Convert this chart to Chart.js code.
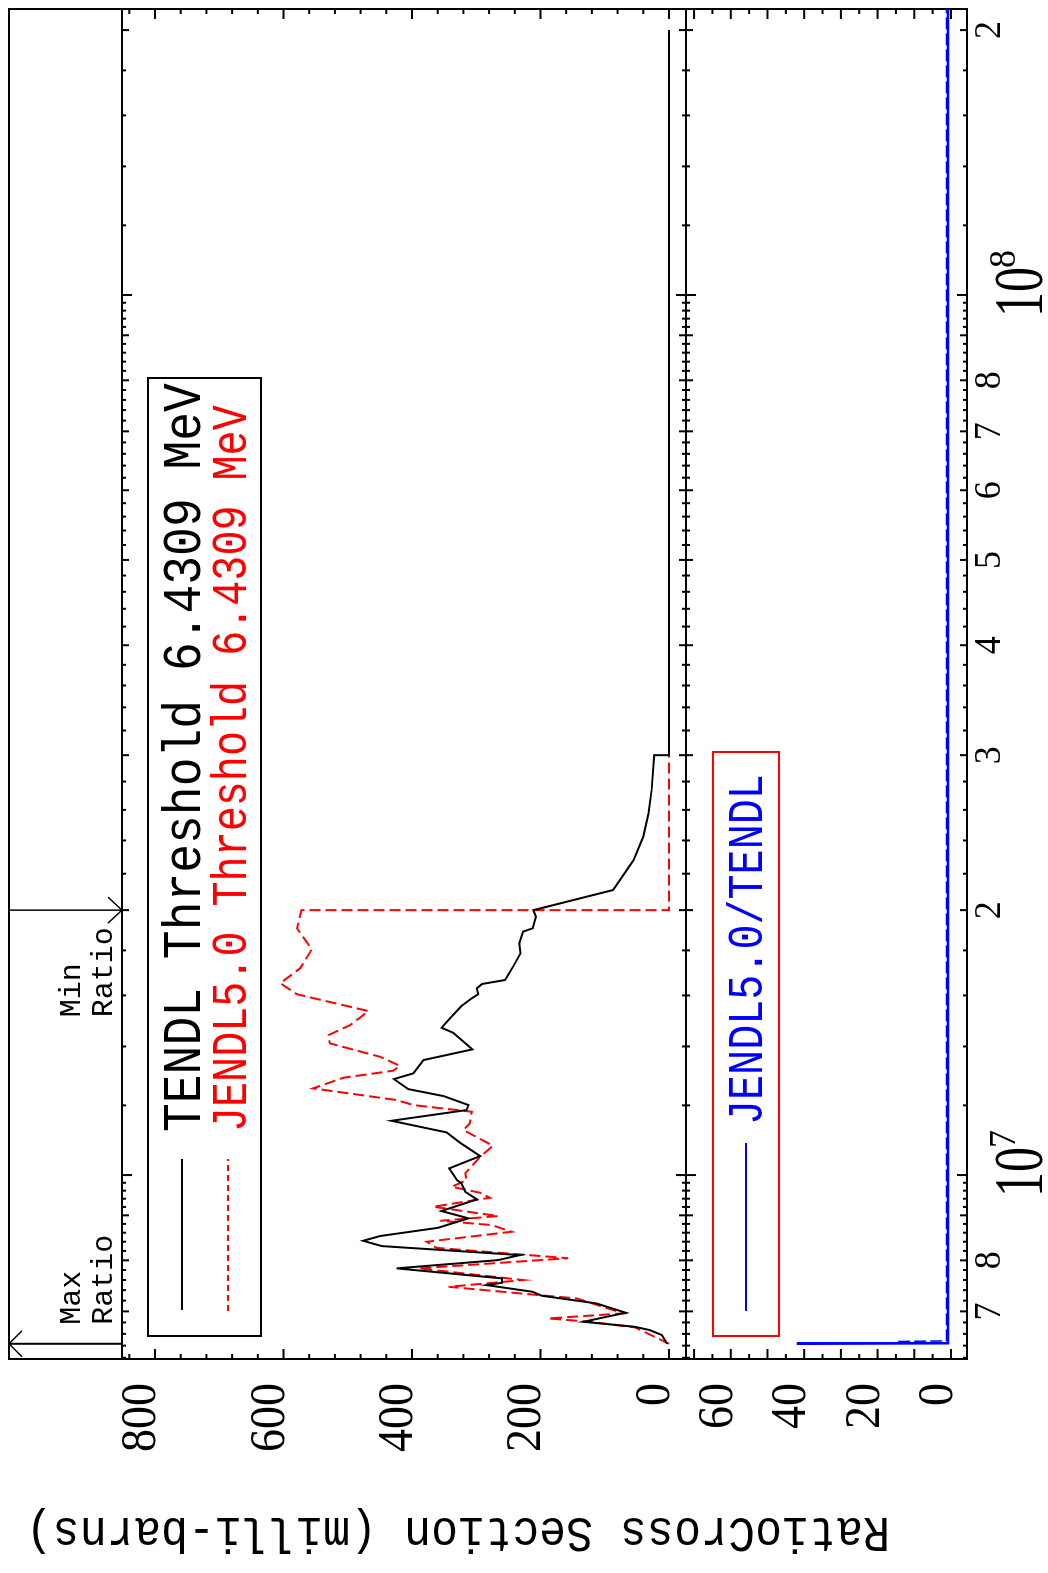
<!DOCTYPE html>
<html>
<head>
<meta charset="utf-8">
<script src="https://cdn.jsdelivr.net/npm/chart.js@4.4.1/dist/chart.umd.min.js"></script>
<style>
    html, body { margin: 0; padding: 0; background: #fff; overflow: hidden; }
    #page {
        position: absolute; left: 0; top: 0; width: 1573px; height: 1048px;
        transform-origin: 0 0; transform: translate(0px, 1573px) rotate(-90deg);
        background: #fff;
    }
    #page canvas { position: absolute; left: 0; top: 0; }
</style>
</head>
<body>
<div id="page">
    <canvas id="xsChart" width="1573" height="1048"></canvas>
    <canvas id="ratioChart" width="1573" height="1048"></canvas>
</div>
<script>
// energies in eV, cross sections in milli-barns
const tendlE = [
    6.431e6, 6.580e6, 6.666e6, 6.723e6, 6.812e6, 6.902e6, 6.975e6, 7.148e6, 7.292e6, 7.368e6,
    7.498e6, 7.544e6, 7.631e6, 7.834e6, 8.005e6, 8.111e6, 8.304e6, 8.420e6, 8.525e6, 8.712e6,
    8.797e6, 8.929e6, 9.102e6, 9.384e6, 9.572e6, 9.785e6, 9.870e6, 1.0177e7, 1.0510e7, 1.0881e7,
    1.1181e7, 1.1526e7, 1.1854e7, 1.2010e7, 1.2296e7, 1.2523e7, 1.2855e7, 1.3049e7, 1.3511e7, 1.3894e7,
    1.4511e7, 1.4701e7, 1.5070e7, 1.5563e7, 1.5880e7, 1.6048e7, 1.6302e7, 1.6486e7, 1.6660e7, 1.7283e7,
    1.7867e7, 1.8340e7, 1.8906e7, 1.9074e7, 1.9663e7, 2.0000e7, 2.1081e7, 2.2801e7, 2.4231e7, 2.5759e7,
    2.7386e7, 3.0000e7, 3.0000e7, 2.0000e8,
];
const tendlXS = [
    3, 11, 30, 53, 133, 97, 67, 113, 198, 212,
    284, 260, 260, 424, 266, 232, 447, 476, 450, 359,
    341, 312, 354, 299, 317, 323, 330, 342, 294, 325,
    346, 432, 315, 312, 351, 406, 428, 398, 382, 306,
    336, 354, 341, 323, 307, 297, 299, 291, 255, 242,
    231, 233, 227, 212, 207, 211, 87, 55, 40, 32,
    27, 23, 0, 0,
];
const jendlE = [
    6.431e6, 6.713e6, 6.812e6, 6.872e6, 6.964e6, 7.242e6, 7.305e6, 7.465e6, 7.598e6, 7.834e6,
    8.045e6, 8.266e6, 8.399e6, 8.622e6, 8.774e6, 8.873e6, 8.983e6, 9.205e6, 9.423e6, 9.547e6,
    9.698e6, 9.870e6, 1.0045e7, 1.0490e7, 1.0797e7, 1.1249e7, 1.1448e7, 1.1801e7, 1.2010e7, 1.2168e7,
    1.2546e7, 1.2899e7, 1.3141e7, 1.3310e7, 1.3628e7, 1.4114e7, 1.4423e7, 1.4806e7, 1.5359e7, 1.6048e7,
    1.6517e7, 1.7178e7, 1.8051e7, 1.9074e7, 2.0000e7, 2.0000e7, 2.0000e8,
];
const jendlXS = [
    0, 53, 123, 188, 71, 144, 203, 343, 227, 390,
    157, 362, 377, 245, 276, 356, 266, 367, 279, 294,
    338, 315, 317, 294, 274, 320, 310, 307, 398, 424,
    554, 507, 429, 419, 450, 528, 530, 496, 468, 579,
    605, 574, 556, 579, 572, 0, 0,
];
const ratioE = [6.431e6, 6.44e6, 2.1135e8];
const ratioVal = [42, 0.8, 0.8];
const ratio2E = [6.47e6, 6.48e6, 2.1135e8];
const ratio2Val = [14.4, 1.2, 1.2];

const xTickVals = [7e6, 8e6, 1e7, 2e7, 3e7, 4e7, 5e7, 6e7, 7e7, 8e7, 1e8, 2e8];
const xTickText = ["7", "8", "10", "2", "3", "4", "5", "6", "7", "8", "10", "2"];
const xTickExp = ["", "", "7", "", "", "", "", "", "", "", "8", ""];
const xsTicks = [0, 200, 400, 600, 800];
const ratioTicks = [0, 20, 40, 60];

const maxRatioE = 6.431e6;
const minRatioE = 2.0e7;

const E_MIN = 6.180e6, E_MAX = 2.1135e8;
const FRAME_TOP = 9, FRAME_BOTTOM = 967;

function pts(xs, ys) {
    return xs.map((x, i) => ({ x: x, y: ys[i] }));
}

function line(ctx, x1, y1, x2, y2) {
    ctx.beginPath();
    ctx.moveTo(x1, y1);
    ctx.lineTo(x2, y2);
    ctx.stroke();
}

function txt(ctx, s, x, y, o) {
    ctx.save();
    ctx.translate(x, y);
    if (o.rot) ctx.rotate(o.rot);
    ctx.scale(o.sx || 1, o.sy || 1);
    ctx.font = o.font;
    ctx.fillStyle = o.color || "#000";
    ctx.textAlign = o.align || "left";
    ctx.textBaseline = "alphabetic";
    ctx.fillText(s, 0, 0);
    ctx.restore();
}

function xTicks(ctx, sc, yLine, dir) {
    for (let p = 6; p <= 8; p++) {
        for (let k = 10; k < 100; k += 2) {
            const v = (k / 10) * Math.pow(10, p);
            if (v < sc.min || v > sc.max) continue;
            const len = k === 10 ? 10 : k % 10 === 0 ? 7 : 4;
            const px = sc.getPixelForValue(v);
            line(ctx, px, yLine, px, yLine + dir * len);
        }
    }
}

function yTicks(ctx, sc, a, step, majorStep) {
    for (let v = 0; v <= sc.max; v += step) {
        const py = sc.getPixelForValue(v);
        const len = v % majorStep === 0 ? 10 : 5;
        line(ctx, a.left, py, a.left + len, py);
        line(ctx, a.right, py, a.right - len, py);
    }
}

const serif = '"Liberation Serif", "DejaVu Serif", serif';
const mono = '"Liberation Mono", "DejaVu Sans Mono", monospace';

const xsDecor = {
    id: "xsDecor",
    afterDraw(chart) {
        const ctx = chart.ctx;
        const x = chart.scales.x, y = chart.scales.y;
        const a = chart.chartArea;
        ctx.save();
        ctx.strokeStyle = "#000";
        ctx.lineWidth = 2;
        ctx.setLineDash([]);
        ctx.strokeRect(a.left, FRAME_TOP, a.right - a.left, FRAME_BOTTOM - FRAME_TOP);
        line(ctx, a.left, a.top, a.right, a.top);
        line(ctx, a.left, a.bottom, a.right, a.bottom);
        xTicks(ctx, x, a.top, 1);
        xTicks(ctx, x, a.bottom, -1);
        yTicks(ctx, y, a, 40, 200);

        xsTicks.forEach((v) => {
            txt(ctx, String(v), 190, y.getPixelForValue(v), { font: "46px " + serif, align: "right", sy: 1.12 });
        });

        // max / min ratio markers
        const mx = x.getPixelForValue(maxRatioE);
        line(ctx, mx, FRAME_TOP, mx, a.top);
        ctx.beginPath();
        ctx.moveTo(mx - 13, FRAME_TOP + 13);
        ctx.lineTo(mx, FRAME_TOP);
        ctx.lineTo(mx + 13, FRAME_TOP + 13);
        ctx.lineWidth = 1.5;
        ctx.stroke();
        const nx = x.getPixelForValue(minRatioE);
        line(ctx, nx, FRAME_TOP, nx, a.top);
        ctx.beginPath();
        ctx.moveTo(nx - 13, a.top - 14);
        ctx.lineTo(nx, a.top);
        ctx.lineTo(nx + 13, a.top - 14);
        ctx.stroke();
        txt(ctx, "Max", mx + 19, 80, { font: "30px " + mono, sy: 1.0 });
        txt(ctx, "Ratio", mx + 19, 112, { font: "30px " + mono, sy: 1.0 });
        txt(ctx, "Min", nx - 107, 80, { font: "30px " + mono, sy: 1.0 });
        txt(ctx, "Ratio", nx - 107, 112, { font: "30px " + mono, sy: 1.0 });

        // legend
        const ds = chart.data.datasets;
        ctx.lineWidth = 2;
        ctx.strokeStyle = "#000";
        ctx.strokeRect(237, 148, 1195 - 237, 261 - 148);
        ctx.strokeStyle = ds[0].borderColor;
        line(ctx, 263, 182, 414, 182);
        ctx.strokeStyle = ds[1].borderColor;
        ctx.setLineDash([6, 4]);
        line(ctx, 262, 228, 414, 228);
        ctx.setLineDash([]);
        txt(ctx, ds[0].label, 441, 200, { font: "48px " + mono, sy: 1.1, color: ds[0].borderColor });
        txt(ctx, ds[1].label, 441, 246, { font: "48px " + mono, sx: 0.87, sy: 1.05, color: ds[1].borderColor });

        // y axis title
        txt(ctx, "RatioCross Section (milli-barns)", 55, 890, {
            font: "45px " + mono, rot: -Math.PI / 2, sy: 1.12,
        });
        ctx.restore();
    },
};

const ratioDecor = {
    id: "ratioDecor",
    afterDraw(chart) {
        const ctx = chart.ctx;
        const x = chart.scales.x, y = chart.scales.y;
        const a = chart.chartArea;
        ctx.save();
        ctx.strokeStyle = "#000";
        ctx.lineWidth = 2;
        xTicks(ctx, x, a.top, 1);
        xTicks(ctx, x, a.bottom, -1);
        yTicks(ctx, y, a, 5, 10);

        ratioTicks.forEach((v) => {
            txt(ctx, String(v), 190, y.getPixelForValue(v) + 1, { font: "46px " + serif, align: "right", sy: 1.12 });
        });

        xTickVals.forEach((v, i) => {
            const px = x.getPixelForValue(v);
            if (xTickExp[i]) {
                txt(ctx, xTickText[i], px + 3, 1042, { font: "50px " + serif, align: "center", sy: 1.4 });
                txt(ctx, xTickExp[i], px + 27, 1015, { font: "36px " + serif, sy: 1.05 });
            } else {
                txt(ctx, xTickText[i], px, 1000, { font: "36px " + serif, align: "center", sy: 1.05 });
            }
        });

        // legend
        const ds = chart.data.datasets[0];
        ctx.strokeStyle = "#ff0000";
        ctx.strokeRect(237, 713, 821 - 237, 779 - 713);
        ctx.strokeStyle = ds.borderColor;
        line(ctx, 262, 746, 430, 746);
        txt(ctx, ds.label, 448, 762, { font: "48px " + mono, sx: 0.87, sy: 1.05, color: ds.borderColor });
        ctx.restore();
    },
};

new Chart(document.getElementById("xsChart"), {
    type: "line",
    data: {
        datasets: [
            {
                label: "TENDL Threshold 6.4309 MeV",
                data: pts(tendlE, tendlXS),
                borderColor: "#000000",
                borderWidth: 2,
                pointRadius: 0,
                tension: 0,
                fill: false,
            },
            {
                label: "JENDL5.0 Threshold 6.4309 MeV",
                data: pts(jendlE, jendlXS),
                borderColor: "#ff0000",
                borderWidth: 2,
                borderDash: [11, 5],
                pointRadius: 0,
                tension: 0,
                fill: false,
            },
        ],
    },
    options: {
        responsive: false,
        animation: false,
        devicePixelRatio: 1,
        layout: { padding: { left: 214, right: 9, top: 122, bottom: 362 } },
        plugins: { legend: { display: false }, tooltip: { enabled: false } },
        scales: {
            x: { type: "logarithmic", min: E_MIN, max: E_MAX, display: false },
            y: { type: "linear", min: -26.5, max: 851.4, display: false },
        },
    },
    plugins: [xsDecor],
});

new Chart(document.getElementById("ratioChart"), {
    type: "line",
    data: {
        datasets: [
            {
                label: "JENDL5.0/TENDL",
                data: pts(ratioE, ratioVal),
                borderColor: "#0000ff",
                borderWidth: 2.5,
                pointRadius: 0,
                tension: 0,
                fill: false,
            },
            {
                label: "",
                data: pts(ratio2E, ratio2Val),
                borderColor: "#0000ff",
                borderWidth: 1.5,
                borderDash: [12, 4],
                pointRadius: 0,
                tension: 0,
                fill: false,
            },
        ],
    },
    options: {
        responsive: false,
        animation: false,
        devicePixelRatio: 1,
        layout: { padding: { left: 214, right: 9, top: 686, bottom: 81 } },
        plugins: { legend: { display: false }, tooltip: { enabled: false } },
        scales: {
            x: { type: "logarithmic", min: E_MIN, max: E_MAX, display: false },
            y: { type: "linear", min: -4.36, max: 72.2, display: false },
        },
    },
    plugins: [ratioDecor],
});
</script>
</body>
</html>
